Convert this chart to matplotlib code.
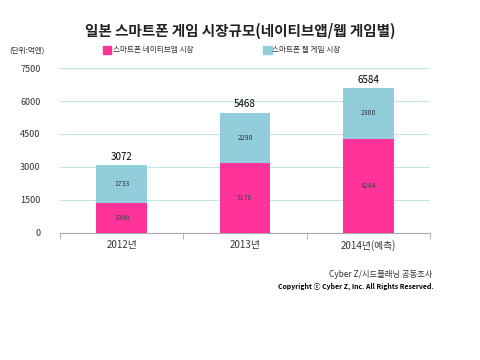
import numpy as np
import matplotlib
matplotlib.use('Agg')
import matplotlib.pyplot as plt

plt.rcParams['font.family'] = ['Noto Sans CJK KR', 'DejaVu Sans']

# Data (unit: 100 million yen)
years = ['2012년', '2013년', '2014년(예측)']
native = [1340, 3178, 4284]
web = [1733, 2290, 2300]
totals = [3072, 5468, 6584]
yticks = [0, 1500, 3000, 4500, 6000, 7500]

pink = '#FF3399'
blue = '#92CDDC'

fig = plt.figure(figsize=(4.8, 3.6), dpi=100)
ax = fig.add_axes([0.125, 0.353, 0.771, 0.458])

x = np.arange(len(years))
w = 0.41
ax.bar(x, native, w, color=pink, zorder=3)
ax.bar(x, web, w, bottom=native, color=blue, zorder=3)

for i in range(len(years)):
    ax.text(x[i], native[i] / 2, str(native[i]), ha='center', va='center',
            fontsize=5, color='#444444', zorder=4)
    ax.text(x[i], native[i] + web[i] / 2, str(web[i]), ha='center', va='center',
            fontsize=5, color='#333333', zorder=4)
    ax.text(x[i], totals[i] + 150, str(totals[i]), ha='center', va='bottom',
            fontsize=7, color='black', zorder=4)

ax.set_xlim(-0.5, 2.5)
ax.set_ylim(0, 7500)
ax.set_yticks(yticks)
ax.set_yticklabels([str(v) for v in yticks], fontsize=6.5, color='#333333')
ax.grid(axis='y', color='#C5E3EA', linewidth=0.8, zorder=0)
ax.set_xticks(x)
ax.set_xticklabels(years, fontsize=7, color='#333333')
ax.set_xticks([-0.5, 0.5, 1.5, 2.5], minor=True)
ax.tick_params(axis='x', which='major', length=0, pad=5)
ax.tick_params(axis='x', which='minor', length=4, color='#AAAAAA', direction='out')
ax.tick_params(axis='y', length=0, pad=14)
for s in ['top', 'right', 'left']:
    ax.spines[s].set_visible(False)
ax.spines['bottom'].set_color('#AAAAAA')

fig.text(0.5, 0.915, '일본 스마트폰 게임 시장규모(네이티브앱/웹 게임별)', ha='center', va='center',
         fontsize=10.5, fontweight='bold', color='#222222')
fig.text(0.02, 0.86, '(단위:억엔)', ha='left', va='center', fontsize=5.5, color='#333333')

# legend
fig.patches.append(plt.Rectangle((0.214, 0.85), 0.018, 0.022, transform=fig.transFigure,
                                 color=pink, figure=fig))
fig.text(0.236, 0.861, '스마트폰 네이티브앱 시장', ha='left', va='center', fontsize=5.5, color='#333333')
fig.patches.append(plt.Rectangle((0.548, 0.85), 0.018, 0.022, transform=fig.transFigure,
                                 color=blue, figure=fig))
fig.text(0.567, 0.861, '스마트폰 웹 게임 시장', ha='left', va='center', fontsize=5.5, color='#333333')

fig.text(0.9, 0.238, 'Cyber Z/시드플래닝 공동조사', ha='right', va='center', fontsize=6, color='#333333')
fig.text(0.903, 0.205, 'Copyright ⓒ Cyber Z, Inc. All Rights Reserved.', ha='right', va='center',
         fontsize=5, fontweight='bold', color='black')

fig.savefig('out.png', dpi=100, facecolor='white')
